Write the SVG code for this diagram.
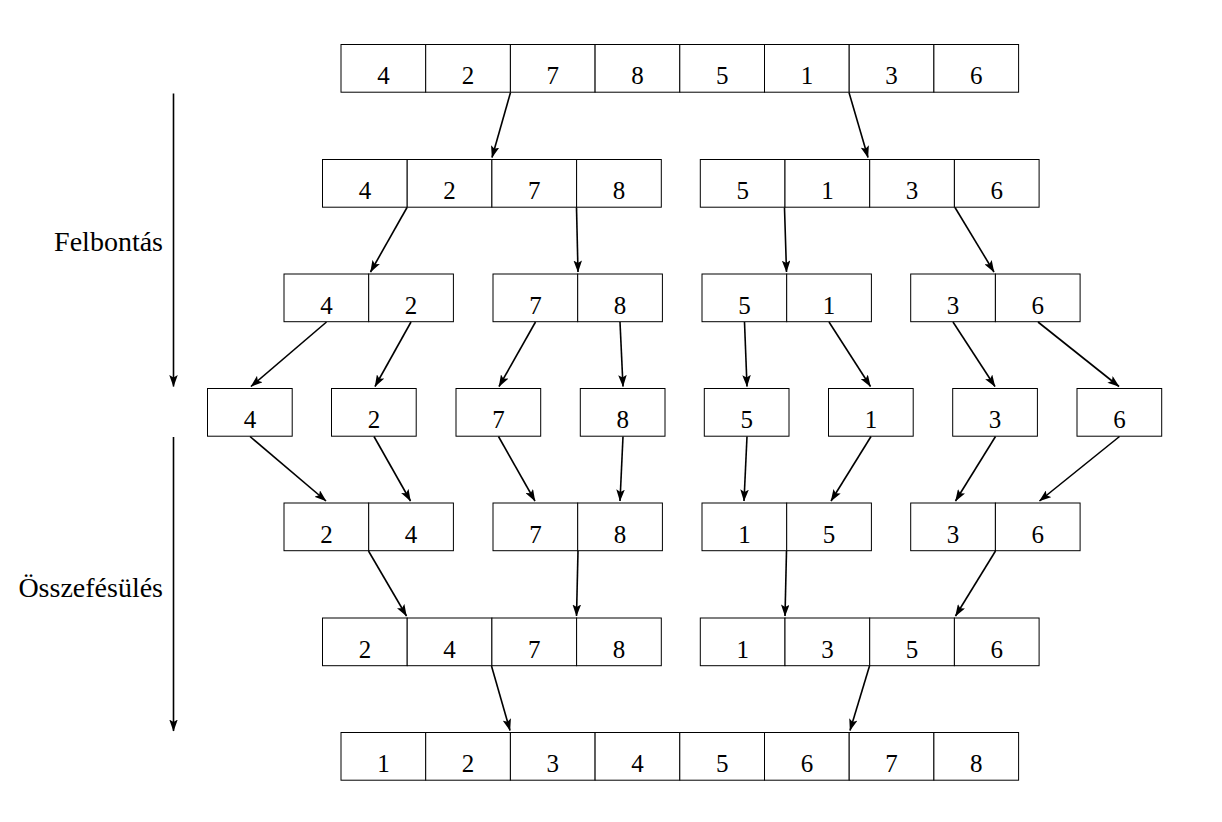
<svg xmlns="http://www.w3.org/2000/svg" width="1222" height="822" viewBox="0 0 1222 822">
<defs>
<marker id="ah" viewBox="0 0 12 8.5" refX="11.5" refY="4.25" markerWidth="12" markerHeight="8.5" markerUnits="userSpaceOnUse" orient="auto">
<path d="M0,0 L12,4.25 L0,8.5 L2.5,4.25 z" fill="#000"/>
</marker>
<style>
.c{fill:#fff;stroke:#000;stroke-width:1}
.t{font-family:'Liberation Serif',serif;font-size:25px;text-anchor:middle;fill:#000}
.l{font-family:'Liberation Serif',serif;font-size:28px;text-anchor:end;fill:#000}
.a{stroke:#000;stroke-width:1.6;fill:none;marker-end:url(#ah)}
</style>
</defs>
<rect width="1222" height="822" fill="#fff"/>

<g id="row1">
<rect class="c" x="341" y="44.5" width="84.7" height="47.7"/><text class="t" x="383.4" y="84">4</text>
<rect class="c" x="425.7" y="44.5" width="84.7" height="47.7"/><text class="t" x="468.1" y="84">2</text>
<rect class="c" x="510.4" y="44.5" width="84.7" height="47.7"/><text class="t" x="552.8" y="84">7</text>
<rect class="c" x="595.1" y="44.5" width="84.7" height="47.7"/><text class="t" x="637.5" y="84">8</text>
<rect class="c" x="679.8" y="44.5" width="84.7" height="47.7"/><text class="t" x="722.2" y="84">5</text>
<rect class="c" x="764.5" y="44.5" width="84.7" height="47.7"/><text class="t" x="806.9" y="84">1</text>
<rect class="c" x="849.2" y="44.5" width="84.7" height="47.7"/><text class="t" x="891.6" y="84">3</text>
<rect class="c" x="933.9" y="44.5" width="84.7" height="47.7"/><text class="t" x="976.3" y="84">6</text>
</g>

<g id="row2-left">
<rect class="c" x="322.5" y="159.5" width="84.7" height="47.7"/><text class="t" x="364.9" y="199">4</text>
<rect class="c" x="407.2" y="159.5" width="84.7" height="47.7"/><text class="t" x="449.6" y="199">2</text>
<rect class="c" x="491.9" y="159.5" width="84.7" height="47.7"/><text class="t" x="534.3" y="199">7</text>
<rect class="c" x="576.6" y="159.5" width="84.7" height="47.7"/><text class="t" x="619" y="199">8</text>
</g>
<g id="row2-right">
<rect class="c" x="700.3" y="159.5" width="84.7" height="47.7"/><text class="t" x="742.7" y="199">5</text>
<rect class="c" x="785" y="159.5" width="84.7" height="47.7"/><text class="t" x="827.4" y="199">1</text>
<rect class="c" x="869.7" y="159.5" width="84.7" height="47.7"/><text class="t" x="912.1" y="199">3</text>
<rect class="c" x="954.4" y="159.5" width="84.7" height="47.7"/><text class="t" x="996.8" y="199">6</text>
</g>

<g id="row3-a">
<rect class="c" x="284" y="274" width="84.7" height="47.7"/><text class="t" x="326.4" y="313.5">4</text>
<rect class="c" x="368.7" y="274" width="84.7" height="47.7"/><text class="t" x="411.1" y="313.5">2</text>
</g>
<g id="row3-b">
<rect class="c" x="493" y="274" width="84.7" height="47.7"/><text class="t" x="535.4" y="313.5">7</text>
<rect class="c" x="577.7" y="274" width="84.7" height="47.7"/><text class="t" x="620.1" y="313.5">8</text>
</g>
<g id="row3-c">
<rect class="c" x="702" y="274" width="84.7" height="47.7"/><text class="t" x="744.4" y="313.5">5</text>
<rect class="c" x="786.7" y="274" width="84.7" height="47.7"/><text class="t" x="829.1" y="313.5">1</text>
</g>
<g id="row3-d">
<rect class="c" x="910.7" y="274" width="84.7" height="47.7"/><text class="t" x="953.1" y="313.5">3</text>
<rect class="c" x="995.4" y="274" width="84.7" height="47.7"/><text class="t" x="1037.8" y="313.5">6</text>
</g>

<g id="row4-1"><rect class="c" x="207.5" y="388.5" width="84.7" height="47.7"/><text class="t" x="249.9" y="428">4</text></g>
<g id="row4-2"><rect class="c" x="331.5" y="388.5" width="84.7" height="47.7"/><text class="t" x="373.9" y="428">2</text></g>
<g id="row4-3"><rect class="c" x="456" y="388.5" width="84.7" height="47.7"/><text class="t" x="498.4" y="428">7</text></g>
<g id="row4-4"><rect class="c" x="580.3" y="388.5" width="84.7" height="47.7"/><text class="t" x="622.7" y="428">8</text></g>
<g id="row4-5"><rect class="c" x="704.3" y="388.5" width="84.7" height="47.7"/><text class="t" x="746.7" y="428">5</text></g>
<g id="row4-6"><rect class="c" x="828.5" y="388.5" width="84.7" height="47.7"/><text class="t" x="870.9" y="428">1</text></g>
<g id="row4-7"><rect class="c" x="952.7" y="388.5" width="84.7" height="47.7"/><text class="t" x="995.1" y="428">3</text></g>
<g id="row4-8"><rect class="c" x="1077" y="388.5" width="84.7" height="47.7"/><text class="t" x="1119.4" y="428">6</text></g>

<g id="row5-a">
<rect class="c" x="284" y="503" width="84.7" height="47.7"/><text class="t" x="326.4" y="542.5">2</text>
<rect class="c" x="368.7" y="503" width="84.7" height="47.7"/><text class="t" x="411.1" y="542.5">4</text>
</g>
<g id="row5-b">
<rect class="c" x="493" y="503" width="84.7" height="47.7"/><text class="t" x="535.4" y="542.5">7</text>
<rect class="c" x="577.7" y="503" width="84.7" height="47.7"/><text class="t" x="620.1" y="542.5">8</text>
</g>
<g id="row5-c">
<rect class="c" x="702" y="503" width="84.7" height="47.7"/><text class="t" x="744.4" y="542.5">1</text>
<rect class="c" x="786.7" y="503" width="84.7" height="47.7"/><text class="t" x="829.1" y="542.5">5</text>
</g>
<g id="row5-d">
<rect class="c" x="910.7" y="503" width="84.7" height="47.7"/><text class="t" x="953.1" y="542.5">3</text>
<rect class="c" x="995.4" y="503" width="84.7" height="47.7"/><text class="t" x="1037.8" y="542.5">6</text>
</g>

<g id="row6-left">
<rect class="c" x="322.5" y="618" width="84.7" height="47.7"/><text class="t" x="364.9" y="657.5">2</text>
<rect class="c" x="407.2" y="618" width="84.7" height="47.7"/><text class="t" x="449.6" y="657.5">4</text>
<rect class="c" x="491.9" y="618" width="84.7" height="47.7"/><text class="t" x="534.3" y="657.5">7</text>
<rect class="c" x="576.6" y="618" width="84.7" height="47.7"/><text class="t" x="619" y="657.5">8</text>
</g>
<g id="row6-right">
<rect class="c" x="700.3" y="618" width="84.7" height="47.7"/><text class="t" x="742.7" y="657.5">1</text>
<rect class="c" x="785" y="618" width="84.7" height="47.7"/><text class="t" x="827.4" y="657.5">3</text>
<rect class="c" x="869.7" y="618" width="84.7" height="47.7"/><text class="t" x="912.1" y="657.5">5</text>
<rect class="c" x="954.4" y="618" width="84.7" height="47.7"/><text class="t" x="996.8" y="657.5">6</text>
</g>

<g id="row7">
<rect class="c" x="341" y="732.5" width="84.7" height="47.7"/><text class="t" x="383.4" y="772">1</text>
<rect class="c" x="425.7" y="732.5" width="84.7" height="47.7"/><text class="t" x="468.1" y="772">2</text>
<rect class="c" x="510.4" y="732.5" width="84.7" height="47.7"/><text class="t" x="552.8" y="772">3</text>
<rect class="c" x="595.1" y="732.5" width="84.7" height="47.7"/><text class="t" x="637.5" y="772">4</text>
<rect class="c" x="679.8" y="732.5" width="84.7" height="47.7"/><text class="t" x="722.2" y="772">5</text>
<rect class="c" x="764.5" y="732.5" width="84.7" height="47.7"/><text class="t" x="806.9" y="772">6</text>
<rect class="c" x="849.2" y="732.5" width="84.7" height="47.7"/><text class="t" x="891.6" y="772">7</text>
<rect class="c" x="933.9" y="732.5" width="84.7" height="47.7"/><text class="t" x="976.3" y="772">8</text>
</g>

<g id="phase-labels">
<text class="l" x="163" y="250.5">Felbontás</text>
<text class="l" x="163" y="596.5">Összefésülés</text>
</g>

<g id="connectors">
<line class="a" x1="173.5" y1="93.5" x2="173.5" y2="386.5"/>
<line class="a" x1="173.5" y1="437" x2="173.5" y2="731"/>

<line class="a" x1="510.5" y1="92.5" x2="492" y2="157.5"/>
<line class="a" x1="849" y1="92.5" x2="868" y2="157.5"/>

<line class="a" x1="407" y1="207.5" x2="370.5" y2="272"/>
<line class="a" x1="576.5" y1="207.5" x2="578" y2="272"/>
<line class="a" x1="784.5" y1="207.5" x2="786.5" y2="272"/>
<line class="a" x1="955" y1="207.5" x2="994" y2="272"/>

<line class="a" x1="326.5" y1="322" x2="251" y2="386.5"/>
<line class="a" x1="411" y1="322" x2="375" y2="386.5"/>
<line class="a" x1="535.5" y1="322" x2="499" y2="386.5"/>
<line class="a" x1="620" y1="322" x2="623" y2="386.5"/>
<line class="a" x1="744.5" y1="322" x2="747" y2="386.5"/>
<line class="a" x1="829" y1="322" x2="870.5" y2="386.5"/>
<line class="a" x1="953" y1="322" x2="995" y2="386.5"/>
<line class="a" x1="1038" y1="322" x2="1119" y2="386.5"/>

<line class="a" x1="250" y1="436.5" x2="326" y2="501"/>
<line class="a" x1="374" y1="436.5" x2="410.5" y2="501"/>
<line class="a" x1="498.5" y1="436.5" x2="535" y2="501"/>
<line class="a" x1="623" y1="436.5" x2="620" y2="501"/>
<line class="a" x1="747" y1="436.5" x2="744" y2="501"/>
<line class="a" x1="871" y1="436.5" x2="831" y2="501"/>
<line class="a" x1="995.5" y1="436.5" x2="955.5" y2="501"/>
<line class="a" x1="1119.5" y1="436.5" x2="1039.5" y2="501"/>

<line class="a" x1="368.5" y1="551" x2="406.5" y2="616"/>
<line class="a" x1="578" y1="551" x2="576.5" y2="616"/>
<line class="a" x1="786.5" y1="551" x2="785" y2="616"/>
<line class="a" x1="995.5" y1="551" x2="955.5" y2="616"/>

<line class="a" x1="491.5" y1="666" x2="510" y2="730.5"/>
<line class="a" x1="869.5" y1="666" x2="850" y2="730.5"/>
</g>
</svg>
